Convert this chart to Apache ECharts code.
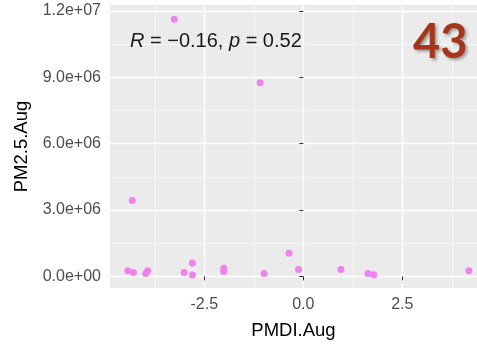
<!DOCTYPE html>
<html>
<head>
<meta charset="utf-8">
<script src="https://cdn.jsdelivr.net/npm/echarts@6/dist/echarts.min.js"></script>
<style>html,body{margin:0;padding:0;background:#fff;}#c{width:477px;height:345px;}</style>
</head>
<body>
<div id="c"></div>
<script>
const pmdiAug = [-3.26, -1.09, -4.32, -4.43, -4.29, -3.98, -3.93, -3.01, -2.80, -2.80, -2.01, -2.01, -0.99, -0.36, -0.12, 0.95, 1.63, 1.78, 4.18];
const pm25Aug = [11.63e6, 8.76e6, 3.43e6, 0.25e6, 0.18e6, 0.13e6, 0.25e6, 0.18e6, 0.61e6, 0.06e6, 0.37e6, 0.22e6, 0.13e6, 1.05e6, 0.31e6, 0.31e6, 0.13e6, 0.07e6, 0.25e6];
const xTicks = [-2.5, 0, 2.5];
const xTickLabels = ['-2.5', '0.0', '2.5'];
const xMinor = [-3.75, -1.25, 1.25, 3.75];
const yTicks = [0, 3e6, 6e6, 9e6, 12e6];
const yTickLabels = ['0.0e+00', '3.0e+06', '6.0e+06', '9.0e+06', '1.2e+07'];
const yMinor = [1.5e6, 4.5e6, 7.5e6, 10.5e6];
const xRange = [-4.881, 4.386];
const yRange = [-0.525e6, 12.27e6];

const chart = echarts.init(document.getElementById('c'), null, {renderer: 'canvas'});
const font = 'Liberation Sans, Arial, sans-serif';
const pts = pmdiAug.map((x, i) => [x, pm25Aug[i]]);

function lbl(ticks, labels) {
  return v => { const i = ticks.findIndex(t => Math.abs(t - v) < 1e-9 * Math.max(1, Math.abs(t))); return i >= 0 ? labels[i] : ''; };
}

chart.setOption({
  animation: false,
  backgroundColor: '#ffffff',
  grid: {left: 110, top: 5, right: 0, bottom: 55, show: true, backgroundColor: '#EBEBEB', borderWidth: 0},
  title: [
    {
      text: '{i|R} = \u22120.16, {i|p} = 0.52',
      left: 125, top: 26,
      textStyle: {fontFamily: font, fontSize: 20, color: '#1a1a1a', fontWeight: 'normal',
        rich: {i: {fontFamily: font, fontSize: 20, fontStyle: 'italic', color: '#1a1a1a'}}}
    },
    {
      text: '43',
      left: 408, top: 14,
      textStyle: {fontFamily: 'Lato, Open Sans, sans-serif', fontSize: 47, fontWeight: 'bold', color: '#A5361B',
        textShadowColor: 'rgba(0,0,0,0.35)', textShadowBlur: 3, textShadowOffsetX: 2, textShadowOffsetY: 2}
    }
  ],
  xAxis: [
    {
      type: 'value', min: xRange[0], max: xRange[1], gridIndex: 0,
      name: 'PMDI.Aug', nameLocation: 'middle', nameGap: 33,
      nameTextStyle: {fontFamily: font, fontSize: 18.5, color: '#000'},
      axisLine: {show: false},
      axisTick: {show: true, length: 4, lineStyle: {color: '#333', width: 1}, customValues: xTicks},
      axisLabel: {customValues: xTicks, formatter: lbl(xTicks, xTickLabels), fontFamily: font, fontSize: 16, color: '#4D4D4D', margin: 9},
      splitLine: {show: true, lineStyle: {color: '#ffffff', width: 1.3}}
    },
    {
      type: 'value', min: xRange[0], max: xRange[1], gridIndex: 0, position: 'bottom',
      axisLine: {show: false},
      axisTick: {show: false, customValues: xMinor},
      axisLabel: {show: false, customValues: xMinor},
      splitLine: {show: true, lineStyle: {color: '#ffffff', width: 0.6}}
    }
  ],
  yAxis: [
    {
      type: 'value', min: yRange[0], max: yRange[1], gridIndex: 0,
      name: 'PM2.5.Aug', nameLocation: 'middle', nameGap: 76,
      nameTextStyle: {fontFamily: font, fontSize: 18.5, color: '#000'},
      axisLine: {show: false},
      axisTick: {show: true, length: 4, lineStyle: {color: '#333', width: 1}, customValues: yTicks},
      axisLabel: {customValues: yTicks, formatter: lbl(yTicks, yTickLabels), fontFamily: font, fontSize: 16, color: '#4D4D4D', margin: 9},
      splitLine: {show: true, lineStyle: {color: '#ffffff', width: 1.3}}
    },
    {
      type: 'value', min: yRange[0], max: yRange[1], gridIndex: 0, position: 'left',
      axisLine: {show: false},
      axisTick: {show: false, customValues: yMinor},
      axisLabel: {show: false, customValues: yMinor},
      splitLine: {show: true, lineStyle: {color: '#ffffff', width: 0.6}}
    }
  ],
  series: [{
    type: 'scatter', xAxisIndex: 0, yAxisIndex: 0,
    data: pts, symbolSize: 7,
    itemStyle: {color: '#EE82EE', opacity: 1},
    z: 5
  }]
});
</script>
</body>
</html>
